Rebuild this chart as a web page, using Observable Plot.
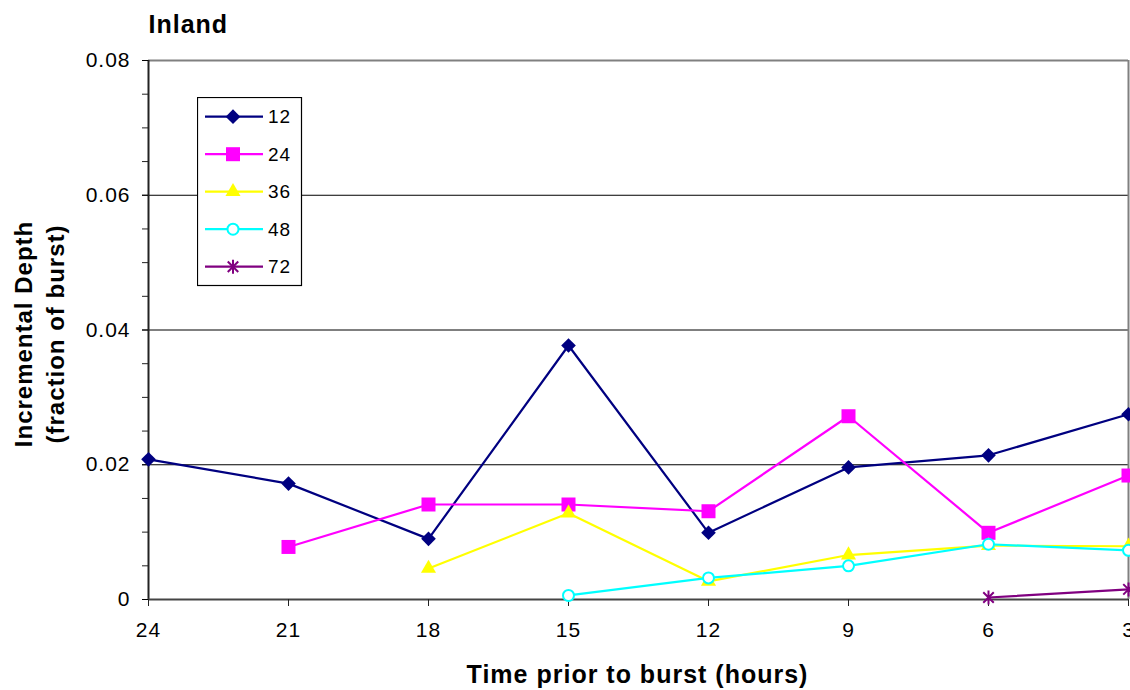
<!DOCTYPE html>
<html>
<head>
<meta charset="utf-8">
<script src="https://cdn.jsdelivr.net/npm/d3@7"></script>
<script src="https://cdn.jsdelivr.net/npm/@observablehq/plot@0.6"></script>
<style>
  html, body { margin: 0; padding: 0; background: #fff; overflow: hidden; }
  #wrap { position: relative; width: 1130px; height: 690px; font-family: Arial, "Liberation Sans", sans-serif; }
  #wrap svg text { letter-spacing: 1px; }
  #wrap #legend { position: absolute; left: 197px; top: 97px; }
</style>
</head>
<body>
<div id="wrap"></div>
<script>
// Hours before burst (x axis runs from 24 down to 3)
const hours = [24, 21, 18, 15, 12, 9, 6, 3];

// Incremental depth (fraction of burst) for each storm duration; null = no value
const depth12 = [0.0208, 0.0172, 0.0090, 0.0377, 0.0099, 0.0196, 0.0214, 0.0275];
const depth24 = [null, 0.0078, 0.0141, 0.0141, 0.0131, 0.0272, 0.0099, 0.0184];
const depth36 = [null, null, 0.0046, 0.0128, 0.0027, 0.0066, 0.0080, 0.0079];
const depth48 = [null, null, null, 0.0006, 0.0032, 0.0050, 0.0082, 0.0073];
const depth72 = [null, null, null, null, null, null, 0.0003, 0.0015];

const seriesNames = ["12", "24", "36", "48", "72"];
const seriesValues = [depth12, depth24, depth36, depth48, depth72];

// Axis ticks
const yLabelTicks = [0, 0.02, 0.04, 0.06, 0.08];
const yMinorTicks = [0, 0.005, 0.01, 0.015, 0.02, 0.025, 0.03, 0.035, 0.04,
                     0.045, 0.05, 0.055, 0.06, 0.065, 0.07, 0.075, 0.08];
const gridTicks = [0.02, 0.04, 0.06];

// Six-armed star marker (vertical stroke plus a cross)
const star = {
  draw(context, size) {
    const r = Math.sqrt(size / Math.PI);
    const d = r * 0.75;
    context.moveTo(0, -r); context.lineTo(0, r);
    context.moveTo(-d, -d); context.lineTo(d, d);
    context.moveTo(-d, d); context.lineTo(d, -d);
  }
};

const styles = [
  {color: "#000080", symbol: "diamond2", r: 6.6, fill: "#000080", stroke: "none", strokeWidth: 0},
  {color: "#FF00FF", symbol: "square",   r: 7.9, fill: "#FF00FF", stroke: "none", strokeWidth: 0},
  {color: "#FFFF00", symbol: "triangle", r: 5.6, fill: "#FFFF00", stroke: "none", strokeWidth: 0},
  {color: "#00FFFF", symbol: "circle",   r: 5.5, fill: "#FFFFFF", stroke: "#00FFFF", strokeWidth: 2},
  {color: "#800080", symbol: star,       r: 7,   fill: "none",    stroke: "#800080", strokeWidth: 2}
];

// Tidy rows per series, skipping missing values
const rowsBySeries = seriesNames.map((name, i) =>
  hours.map((h, j) => ({hour: h, depth: seriesValues[i][j], series: name}))
       .filter(d => d.depth != null)
);

const seriesMarks = rowsBySeries.flatMap((rows, i) => {
  const s = styles[i];
  return [
    Plot.line(rows, {x: "hour", y: "depth", stroke: s.color, strokeWidth: 2.2}),
    Plot.dot(rows, {x: "hour", y: "depth", symbol: () => s.symbol, r: s.r,
                    fill: s.fill, stroke: s.stroke, strokeWidth: s.strokeWidth})
  ];
});

const chart = Plot.plot({
  width: 1130,
  height: 690,
  marginLeft: 148,
  marginRight: 2,
  marginTop: 60,
  marginBottom: 91,
  style: {fontFamily: "Arial, 'Liberation Sans', sans-serif", fontSize: "21px", color: "#000", background: "#fff", overflow: "visible"},
  x: {domain: [24, 3]},
  y: {domain: [0, 0.08]},
  symbol: {type: "identity"},
  marks: [
    Plot.gridY(gridTicks, {stroke: "#000", strokeOpacity: 1, strokeWidth: 1}),
    Plot.ruleY([0.08], {stroke: "#808080", strokeWidth: 2}),
    Plot.ruleX([3], {stroke: "#808080", strokeWidth: 2}),
    Plot.ruleX([24], {stroke: "#222", strokeWidth: 2}),
    Plot.ruleY([0], {stroke: "#444", strokeWidth: 2}),
    Plot.axisY({ticks: yMinorTicks, tickSize: 6, fill: "none", label: null, stroke: "#222"}),
    Plot.axisY({ticks: yLabelTicks, tickSize: 6, tickPadding: 12, label: null, fontSize: 21,
                tickFormat: d => d === 0 ? "0" : d.toFixed(2)}),
    Plot.axisX({ticks: hours, tickSize: 7, tickPadding: 16, label: null, fontSize: 21, stroke: "#222"}),
    ...seriesMarks,
    Plot.text(["Inland"], {frameAnchor: "top-left", dy: -28, lineAnchor: "bottom", textAnchor: "start",
                           fontSize: 25, fontWeight: "bold"}),
    Plot.text(["Time prior to burst (hours)"], {frameAnchor: "bottom", dy: 83, dx: -1, lineAnchor: "bottom",
                           fontSize: 25, fontWeight: "bold"}),
    Plot.text(["Incremental Depth"], {frameAnchor: "left", rotate: -90, dx: -117, dy: 4,
                           lineAnchor: "bottom", textAnchor: "middle", fontSize: 24, fontWeight: "bold"}),
    Plot.text(["(fraction of burst)"], {frameAnchor: "left", rotate: -90, dx: -85, dy: 4,
                           lineAnchor: "bottom", textAnchor: "middle", fontSize: 24, fontWeight: "bold"})
  ]
});

const wrap = document.getElementById("wrap");
wrap.appendChild(chart);

// Legend box
const symbolTypes = {
  diamond2: d3.symbolDiamond2, square: d3.symbolSquare,
  triangle: d3.symbolTriangle, circle: d3.symbolCircle
};
const legend = d3.select(wrap).append("svg")
  .attr("id", "legend").attr("width", 106).attr("height", 190);
legend.append("rect")
  .attr("x", 0.5).attr("y", 0.5).attr("width", 104).attr("height", 188)
  .attr("fill", "#fff").attr("stroke", "#000").attr("stroke-width", 1.2);
seriesNames.forEach((name, i) => {
  const s = styles[i];
  const cy = 19.7 + 37.5 * i;
  const g = legend.append("g");
  g.append("line").attr("x1", 8).attr("x2", 66).attr("y1", cy).attr("y2", cy)
    .attr("stroke", s.color).attr("stroke-width", 2.2);
  const type = typeof s.symbol === "string" ? symbolTypes[s.symbol] : s.symbol;
  g.append("path")
    .attr("transform", `translate(36,${cy})`)
    .attr("d", d3.symbol(type, Math.PI * s.r * s.r)())
    .attr("fill", s.fill).attr("stroke", s.stroke).attr("stroke-width", s.strokeWidth);
  g.append("text").attr("x", 71).attr("y", cy).attr("dy", "0.35em")
    .attr("font-size", 19).attr("fill", "#000").text(name);
});
</script>
</body>
</html>
